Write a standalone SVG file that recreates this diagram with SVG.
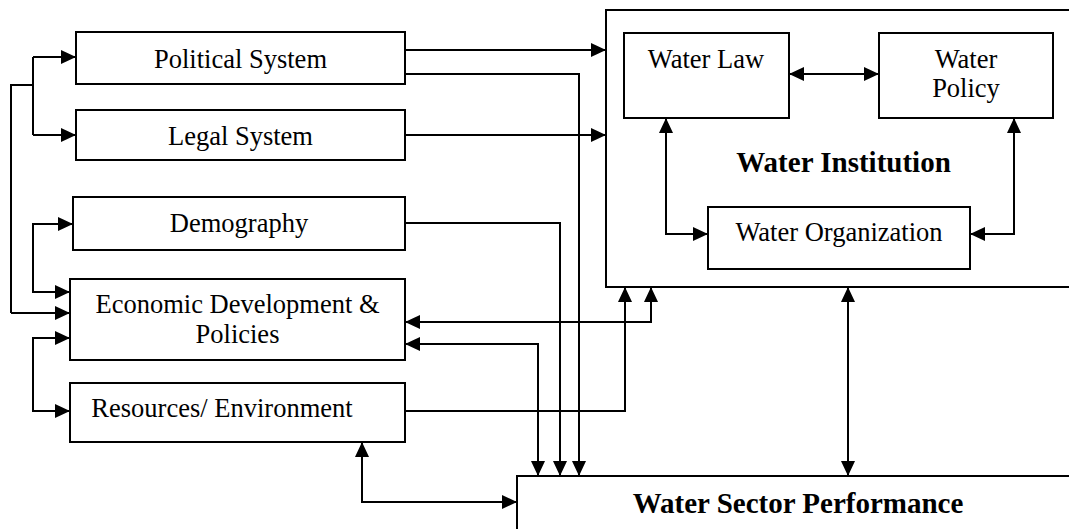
<svg xmlns="http://www.w3.org/2000/svg" width="1069" height="529" viewBox="0 0 1069 529">
  <defs>
    <marker id="arrow" viewBox="0 0 15 14" refX="15" refY="7" markerWidth="15" markerHeight="14" markerUnits="userSpaceOnUse" orient="auto-start-reverse">
      <path d="M0,0 L15,7 L0,14 Z" fill="#000"/>
    </marker>
  </defs>
  <style>
    .box { fill: #fff; stroke: #000; stroke-width: 2; }
    .lbl { font-family: "Liberation Serif", "Times New Roman", serif; font-size: 26.5px; fill: #000; text-anchor: middle; }
    .title { font-family: "Liberation Serif", "Times New Roman", serif; font-size: 29px; font-weight: bold; fill: #000; text-anchor: middle; }
    .wire { fill: none; stroke: #000; stroke-width: 2; }
    .one { marker-end: url(#arrow); }
    .two { marker-start: url(#arrow); marker-end: url(#arrow); }
  </style>
  <rect width="1069" height="529" fill="#fff"/>

  <!-- outer containers -->
  <g id="water-institution">
    <rect class="box" x="606" y="10" width="480" height="277"/>
    <text class="title" x="843.5" y="172">Water Institution</text>
  </g>
  <g id="water-sector-performance">
    <rect class="box" x="517" y="476" width="570" height="70"/>
    <text class="title" x="798" y="513">Water Sector Performance</text>
  </g>

  <!-- external factors -->
  <g id="political-system">
    <rect class="box" x="76" y="32" width="329" height="52"/>
    <text class="lbl" x="240.5" y="68">Political System</text>
  </g>
  <g id="legal-system">
    <rect class="box" x="76" y="110" width="329" height="50"/>
    <text class="lbl" x="240.5" y="145">Legal System</text>
  </g>
  <g id="demography">
    <rect class="box" x="73" y="197" width="332" height="53"/>
    <text class="lbl" x="239" y="232">Demography</text>
  </g>
  <g id="economic-development">
    <rect class="box" x="70" y="279" width="335" height="81"/>
    <text class="lbl" x="237.5" y="313">Economic Development &amp;</text>
    <text class="lbl" x="237.5" y="343">Policies</text>
  </g>
  <g id="resources-environment">
    <rect class="box" x="70" y="383" width="335" height="59"/>
    <text class="lbl" x="222" y="417">Resources/ Environment</text>
  </g>

  <!-- institution components -->
  <g id="water-law">
    <rect class="box" x="624" y="33" width="165" height="85"/>
    <text class="lbl" x="706" y="68">Water Law</text>
  </g>
  <g id="water-policy">
    <rect class="box" x="879" y="33" width="174" height="85"/>
    <text class="lbl" x="966" y="68">Water</text>
    <text class="lbl" x="966" y="97">Policy</text>
  </g>
  <g id="water-organization">
    <rect class="box" x="708" y="207" width="262" height="62"/>
    <text class="lbl" x="839" y="241">Water Organization</text>
  </g>

  <g id="connectors">
    <!-- left-hand feed tree -->
    <path class="wire" d="M33,85 H11 V313"/>
    <path class="wire one" d="M11,313 H70"/>
    <path class="wire" d="M33,57 V135"/>
    <path class="wire one" d="M33,57 H76"/>
    <path class="wire one" d="M33,135 H76"/>
    <path class="wire two" d="M73,224 H33 V292 H70"/>
    <path class="wire two" d="M70,338 H33 V411 H70"/>

    <!-- factors to institution and performance -->
    <path class="wire one" d="M405,50 H606"/>
    <path class="wire one" d="M405,74 H579 V476"/>
    <path class="wire one" d="M405,135 H606"/>
    <path class="wire one" d="M405,223 H560 V476"/>
    <path class="wire two" d="M405,322 H651 V287"/>
    <path class="wire two" d="M405,344 H538 V476"/>
    <path class="wire one" d="M405,411 H625 V287"/>
    <path class="wire two" d="M362,442 V502 H517"/>

    <!-- inside the institution -->
    <path class="wire two" d="M789,74 H879"/>
    <path class="wire two" d="M666,118 V234 H708"/>
    <path class="wire two" d="M1014,118 V234 H970"/>

    <!-- institution to performance -->
    <path class="wire two" d="M848,287 V476"/>
  </g>
</svg>
